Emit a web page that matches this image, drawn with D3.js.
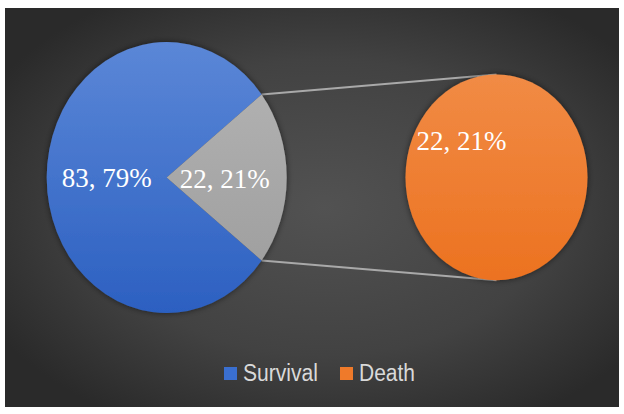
<!DOCTYPE html>
<html>
<head>
<meta charset="utf-8">
<script src="https://cdn.jsdelivr.net/npm/d3@7"></script>
<style>
  body { margin: 0; background: #ffffff; }
  svg { display: block; }
</style>
</head>
<body>
<div id="chart"></div>
<script>
// Data ------------------------------------------------------------------------------------------------------------
const categories = ["Survival", "Death"];
const mainValues = [83, 22];
const secondValues = [22];
const legendLabels = ["Survival", "Death"];

// Canvas ----------------------------------------------------------------------------------------------------------
const canvasWidth = 624;
const canvasHeight = 414;

const svg = d3.select("#chart")
  .append("svg")
  .attr("width", canvasWidth)
  .attr("height", canvasHeight);

const defs = svg.append("defs");

const bg = defs.append("radialGradient")
  .attr("id", "bg")
  .attr("cx", "52%").attr("cy", "50%").attr("r", "62%");
bg.append("stop").attr("offset", "0%").attr("stop-color", "#525252");
bg.append("stop").attr("offset", "60%").attr("stop-color", "#424242");
bg.append("stop").attr("offset", "100%").attr("stop-color", "#2a2a2a");

function vGrad(id, top, bottom) {
  const g = defs.append("linearGradient")
    .attr("id", id)
    .attr("x1", 0).attr("y1", 0).attr("x2", 0).attr("y2", 1);
  g.append("stop").attr("offset", "0%").attr("stop-color", top);
  g.append("stop").attr("offset", "100%").attr("stop-color", bottom);
}
vGrad("gBlue", "#5b87d7", "#2c60c1");
vGrad("gGray", "#b0b0b0", "#a0a0a0");
vGrad("gOrange", "#f18b45", "#ec7220");

const shadow = defs.append("filter")
  .attr("id", "shadow")
  .attr("x", "-20%").attr("y", "-20%").attr("width", "140%").attr("height", "140%");
shadow.append("feGaussianBlur").attr("in", "SourceAlpha").attr("stdDeviation", 3).attr("result", "blur");
shadow.append("feFlood").attr("flood-color", "#000000").attr("flood-opacity", 0.55);
shadow.append("feComposite").attr("in2", "blur").attr("operator", "in").attr("result", "sh");
const merge = shadow.append("feMerge");
merge.append("feMergeNode").attr("in", "sh");
merge.append("feMergeNode").attr("in", "SourceGraphic");

svg.append("rect")
  .attr("x", 5).attr("y", 8)
  .attr("width", canvasWidth - 10)
  .attr("height", canvasHeight - 15)
  .attr("fill", "url(#bg)");

// Geometry (pies are stretched vertically, like the original) ----------------------------------------------------
const yStretch = 1.13;
const mainCenter = [166.7, 177.5];
const mainRadius = 120;
const secondCenter = [496.5, 177.3];
const secondRadius = 91;

const total = d3.sum(mainValues);
const otherAngle = mainValues[1] / total * 2 * Math.PI;

// gray slice centred on the right (angle PI/2 in d3 terms)
const pie = d3.pie()
  .sort(null)
  .startAngle(Math.PI / 2 + otherAngle / 2)
  .endAngle(Math.PI / 2 + otherAngle / 2 + 2 * Math.PI);
const mainArcs = pie(mainValues);

const mainArc = d3.arc().innerRadius(0).outerRadius(mainRadius);
const secondArc = d3.arc().innerRadius(0).outerRadius(secondRadius);

// Connector lines -------------------------------------------------------------------------------------------------
const a1 = Math.PI / 2 - otherAngle / 2;
const a2 = Math.PI / 2 + otherAngle / 2;
const p1 = [mainCenter[0] + mainRadius * Math.sin(a1), mainCenter[1] - mainRadius * Math.cos(a1) * yStretch];
const p2 = [mainCenter[0] + mainRadius * Math.sin(a2), mainCenter[1] - mainRadius * Math.cos(a2) * yStretch];
const q1 = [secondCenter[0], secondCenter[1] - secondRadius * yStretch];
const q2 = [secondCenter[0], secondCenter[1] + secondRadius * yStretch];

svg.append("g")
  .selectAll("line")
  .data([[p1, q1], [p2, q2]])
  .join("line")
  .attr("x1", d => d[0][0]).attr("y1", d => d[0][1])
  .attr("x2", d => d[1][0]).attr("y2", d => d[1][1])
  .attr("stroke", "#a9a9a9")
  .attr("stroke-width", 2);

// Main pie --------------------------------------------------------------------------------------------------------
const mainGroup = svg.append("g")
  .attr("filter", "url(#shadow)")
  .append("g")
  .attr("transform", "translate(" + mainCenter[0] + "," + mainCenter[1] + ") scale(1," + yStretch + ")");

mainGroup.selectAll("path")
  .data(mainArcs)
  .join("path")
  .attr("d", mainArc)
  .attr("fill", (d, i) => i === 0 ? "url(#gBlue)" : "url(#gGray)");

// Secondary pie ---------------------------------------------------------------------------------------------------
const secondGroup = svg.append("g")
  .attr("filter", "url(#shadow)")
  .append("g")
  .attr("transform", "translate(" + secondCenter[0] + "," + secondCenter[1] + ") scale(1," + yStretch + ")");

secondGroup.selectAll("path")
  .data(d3.pie().sort(null)(secondValues))
  .join("path")
  .attr("d", secondArc)
  .attr("fill", "url(#gOrange)");

// Data labels -----------------------------------------------------------------------------------------------------
function pct(v) { return Math.round(v / total * 100) + "%"; }
const labels = [
  { text: mainValues[0] + ", " + pct(mainValues[0]), x: mainCenter[0] - 60, y: 187 },
  { text: mainValues[1] + ", " + pct(mainValues[1]), x: mainCenter[0] + 58, y: 188 },
  { text: secondValues[0] + ", " + pct(secondValues[0]), x: secondCenter[0] - 35, y: 150 }
];

svg.append("g")
  .selectAll("text")
  .data(labels)
  .join("text")
  .attr("x", d => d.x)
  .attr("y", d => d.y)
  .attr("text-anchor", "middle")
  .attr("fill", "#ffffff")
  .style("font-family", "'Liberation Serif', 'Times New Roman', serif")
  .style("font-size", "27px")
  .text(d => d.text);

// Legend ----------------------------------------------------------------------------------------------------------
const legendColors = ["#3a6fd0", "#ef7a2a"];
const legendX = [224, 340];
const legendTextWidth = [75, 56];
const legendGroup = svg.append("g");

legendGroup.selectAll("rect")
  .data(legendLabels)
  .join("rect")
  .attr("x", (d, i) => legendX[i])
  .attr("y", 367)
  .attr("width", 13)
  .attr("height", 13)
  .attr("fill", (d, i) => legendColors[i]);

legendGroup.selectAll("text")
  .data(legendLabels)
  .join("text")
  .attr("x", (d, i) => legendX[i] + 19)
  .attr("y", 381)
  .attr("textLength", (d, i) => legendTextWidth[i])
  .attr("lengthAdjust", "spacingAndGlyphs")
  .attr("fill", "#d9d9d9")
  .style("font-family", "'Liberation Sans', Arial, sans-serif")
  .style("font-size", "23px")
  .text(d => d);
</script>
</body>
</html>
